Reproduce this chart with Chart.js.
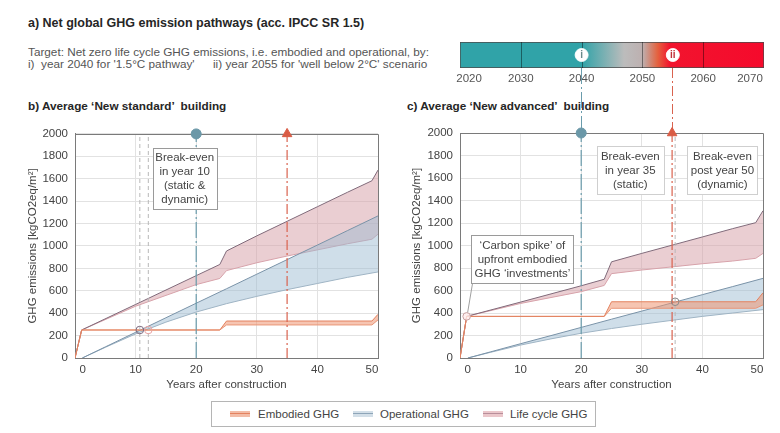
<!DOCTYPE html>
<html>
<head>
<meta charset="utf-8">
<script src="https://cdn.jsdelivr.net/npm/chart.js@4.4.1/dist/chart.umd.min.js"></script>
<style>
html,body{margin:0;padding:0;background:#fff}
body{width:780px;height:433px;position:relative;overflow:hidden;font-family:"Liberation Sans",Arial,Helvetica,sans-serif}
.t{position:absolute;white-space:pre;line-height:14px;font-size:11.75px;color:#555}
.b{font-weight:bold;color:#262626}
canvas{position:absolute}
#legend{position:absolute;left:211px;top:401px;width:385px;height:26px;border:1px solid #b5b5b5;box-sizing:border-box}
.sw{position:absolute;width:20px;height:6px;top:9px}
.sw i{position:absolute;left:0;right:0;top:2px;height:1px}
.lt{position:absolute;top:5px;font-size:11.5px;line-height:14px;color:#444;white-space:pre}
</style>
</head>
<body>
<div class="t b" style="left:28px;top:16px;font-size:12.5px">a) Net global GHG emission pathways (acc. IPCC SR 1.5)</div>
<div class="t" style="left:28px;top:45px">Target: Net zero life cycle GHG emissions, i.e. embodied and operational, by:</div>
<div class="t" style="left:28px;top:57px">i)  year 2040 for '1.5°C pathway'</div>
<div class="t" style="left:213px;top:57px">ii) year 2055 for 'well below 2°C' scenario</div>
<div class="t b" style="left:28px;top:99px">b) Average ‘New standard’  building</div>
<div class="t b" style="left:407px;top:99px">c) Average ‘New advanced’  building</div>
<canvas id="bar" width="340" height="60" style="left:440px;top:30px"></canvas>
<canvas id="left" width="390" height="278" style="left:0;top:120px"></canvas>
<canvas id="right" width="390" height="330" style="left:390px;top:68px"></canvas>
<div id="legend">
  <div class="sw" style="left:18px;background:#f3bca6"><i style="background:#e3825f"></i></div>
  <div class="lt" style="left:46px">Embodied GHG</div>
  <div class="sw" style="left:141px;background:#d3dfe8"><i style="background:#8ea5b8"></i></div>
  <div class="lt" style="left:168px">Operational GHG</div>
  <div class="sw" style="left:271px;background:#ebc7cb"><i style="background:#b88e9a"></i></div>
  <div class="lt" style="left:298px">Life cycle GHG</div>
</div>
<script>
// ---------- DATA ----------
// Years after construction (x) and GHG emissions in kgCO2eq/m² (y)
const leftEmbX    = [0, 1.1, 23.9, 25.0, 49.0, 50];
const leftEmbHigh = [0, 250, 250, 330, 330, 390];
const leftEmbLow  = [0, 250, 250, 295, 295, 340];
const leftOpX     = [1.2, 5, 10, 15, 20, 25, 30, 35, 40, 45, 50];
const leftOpHigh  = [0, 99, 229, 359, 489, 618, 748, 878, 1008, 1138, 1268];
const leftOpLow   = [0, 95, 215, 320, 410, 485, 550, 610, 665, 720, 768];
const leftLcX     = [0, 1.1, 10, 20, 23.9, 25, 30, 35, 40, 45, 49, 50];
const leftLcHigh  = [0, 250, 478, 735, 835, 955, 1090, 1220, 1350, 1480, 1582, 1677];
const leftLcLow   = [0, 250, 462, 655, 710, 780, 850, 910, 965, 1020, 1060, 1105];

const rightEmbX    = [0, 1.1, 23.8, 25.0, 48.8, 50];
const rightEmbHigh = [0, 370, 370, 500, 500, 580];
const rightEmbLow  = [0, 370, 370, 442, 442, 472];
const rightOpX     = [1.3, 5, 10, 15, 20, 25, 30, 35, 40, 45, 50];
const rightOpHigh  = [0, 54, 127, 199, 272, 345, 417, 490, 563, 635, 708];
const rightOpLow   = [0, 50, 115, 170, 220, 262, 300, 335, 370, 400, 430];
const rightLcX     = [0, 1.1, 10, 20, 23.8, 25, 30, 35, 40, 45, 48.8, 50];
const rightLcHigh  = [0, 370, 497, 642, 700, 855, 930, 1003, 1076, 1150, 1203, 1309];
const rightLcLow   = [0, 370, 485, 590, 645, 750, 782, 810, 838, 862, 886, 930];

const targetYears = [20, 35];            // 2040 (1.5°C) and 2055 (well below 2°C)
const targetTop = 2000;
const leftBreakEvenX = [10.7, 12.1];
const leftBreakEvenY = [250, 250];
const rightBreakEvenX = [35.5, 1.1];
const rightBreakEvenY = [500, 370];

const xTickValues = [1.25, 10, 20, 30, 40, 49];
const xTickLabels = ['0', '10', '20', '30', '40', '50'];

const barYears = [2020, 2070];
const yearTickValues = [2021.5, 2030, 2040, 2050, 2060, 2067.7];
const yearTickLabels = ['2020', '2030', '2040', '2050', '2060', '2070'];
const gradYears  = [2020, 2040, 2047, 2050, 2052.5, 2054.5, 2070];
const gradColors = ['#30a3a8', '#30a3a8', '#bcbcbc', '#bdb0b0', '#e4623f', '#f2142e', '#f50a2c'];
const dividerYears = [2030, 2040, 2050, 2060];
const milestoneYears = [2040, 2055];
const milestoneLabels = ['i', 'ii'];

// ---------- STYLE ----------
const FONT = '"Liberation Sans", Arial, Helvetica, sans-serif';
Chart.defaults.font.family = FONT;
Chart.defaults.font.size = 11.5;
Chart.defaults.color = '#444';
const gridColor = '#e2e2e2';
const frameColor = '#7a7a7a';
const tealLine = '#6a9cac', tealMark = '#6b98a8';
const redLine = '#d9634f', redMark = '#d95c45';
const emb = {hi:'#e3825f', lo:'#e99678', fill:'rgba(238,150,115,0.55)'};
const op  = {hi:'#7a93a8', lo:'#9fb4c4', fill:'rgba(155,185,208,0.48)'};
const lc  = {hi:'#806a7a', lo:'#d7a2aa', fill:'rgba(214,158,166,0.5)'};

function xy(xs, ys){ return xs.map((x,i)=>({x:x, y:ys[i]})); }
function band(xs, hi, lo, st){
  return [
    {data: xy(xs,hi), borderColor: st.hi, borderWidth:1, pointRadius:0, fill:false, tension:0},
    {data: xy(xs,lo), borderColor: st.lo, borderWidth:1, pointRadius:0, fill:'-1', backgroundColor: st.fill, tension:0}
  ];
}
function vline(year, color, dash, width){
  return {data:[{x:year,y:0},{x:year,y:targetTop}], borderColor:color, borderDash:dash, borderWidth:width||1, pointRadius:0, fill:false};
}

const deco = {
  id:'deco',
  beforeDatasetsDraw(chart, args, o){
    const {ctx, chartArea:a, scales:{x}} = chart;
    ctx.save();
    ctx.strokeStyle = frameColor; ctx.lineWidth = 1;
    ctx.beginPath();
    ctx.moveTo(a.left, Math.round(a.top)+0.5);
    ctx.lineTo(Math.round(a.right)+0.5, Math.round(a.top)+0.5);
    ctx.lineTo(Math.round(a.right)+0.5, a.bottom);
    ctx.stroke();
    (o.extend||[]).forEach(e=>{
      const px = Math.round(x.getPixelForValue(e.year))+0.5;
      ctx.strokeStyle = e.color; ctx.setLineDash(e.dash);
      ctx.beginPath(); ctx.moveTo(px, 0); ctx.lineTo(px, a.top); ctx.stroke();
    });
    ctx.restore();
  },
  afterDatasetsDraw(chart, args, o){
    const {ctx, scales:{x,y}} = chart;
    ctx.save();
    (o.notes||[]).forEach(n=>{
      const cx = x.getPixelForValue(n.x), cy = y.getPixelForValue(n.y);
      const l = Math.round(cx - n.w/2)+0.5, t = Math.round(cy - n.h/2)+0.5;
      if(n.leader){
        const lx = x.getPixelForValue(n.leader.x), ly = y.getPixelForValue(n.leader.y);
        ctx.strokeStyle = '#a0a0a0'; ctx.lineWidth = 1;
        ctx.beginPath(); ctx.moveTo(lx+1, ly-4); ctx.lineTo(l+1, t+n.h); ctx.stroke();
      }
      ctx.fillStyle = '#fff'; ctx.fillRect(l, t, n.w, n.h);
      ctx.strokeStyle = n.border; ctx.lineWidth = 1; ctx.strokeRect(l, t, n.w, n.h);
      ctx.fillStyle = '#444'; ctx.font = '11.5px ' + FONT;
      ctx.textAlign = 'center'; ctx.textBaseline = 'middle';
      n.lines.forEach((s,i)=> ctx.fillText(s, cx, cy + (i - (n.lines.length-1)/2)*14.2 + 0.5));
    });
    ctx.restore();
  }
};

function makeChart(id, d, opt){
  const datasets = [
    {type:'line', data:[{x:targetYears[0], y:targetTop}], showLine:false, pointRadius:5, pointStyle:'circle', pointBackgroundColor:tealMark, pointBorderColor:tealMark, clip:false},
    {type:'line', data:[{x:targetYears[1], y:targetTop}], showLine:false, pointRadius:5.5, pointStyle:'triangle', pointBackgroundColor:redMark, pointBorderColor:redMark, clip:false},
  ];
  d.circles.forEach(c=> datasets.push({data:[{x:c.x,y:c.y}], showLine:false, pointRadius:3.8, pointBorderWidth:1, pointBorderColor:c.color, pointBackgroundColor:c.bg||'rgba(255,255,255,0)', clip:false}));
  datasets.push(vline(targetYears[0], tealLine, [16,3,2,3], 1.2));
  datasets.push(vline(targetYears[1], redLine, [10,3,2,3], 1.2));
  d.grey.forEach(g=> datasets.push(vline(g, '#b8b8b8', [4,3], 1)));
  datasets.push(...band(d.embX, d.embHi, d.embLo, emb));
  datasets.push(...band(d.opX, d.opHi, d.opLo, op));
  datasets.push(...band(d.lcX, d.lcHi, d.lcLo, lc));

  return new Chart(document.getElementById(id), {
    type:'line',
    data:{datasets},
    options:{
      responsive:false, animation:false, devicePixelRatio:1,
      layout:{padding:{left:0, right:opt.padRight, top:opt.padTop, bottom:0}},
      scales:{
        x:{type:'linear', min:0, max:50,
          afterBuildTicks: ax => { ax.ticks = xTickValues.map(v=>({value:v})); },
          ticks:{callback:(v,i)=>xTickLabels[i], padding:5, maxRotation:0, autoSkip:false, color:'#444'},
          grid:{color: c => (c.index===0 || c.index===xTickValues.length-1) ? 'rgba(0,0,0,0)' : gridColor, drawTicks:false},
          border:{color:frameColor},
          title:{display:true, text:'Years after construction', color:'#444', padding:{top:0,bottom:6}},
          afterFit: s => { s.height = 40; }
        },
        y:{min:0, max:2000,
          ticks:{stepSize:200, padding:7, color:'#444', callback: v => String(v)},
          grid:{color:gridColor, drawTicks:false},
          border:{color:frameColor},
          title:{display:true, text:'GHG emissions [kgCO2eq/m²]', color:'#444', padding:{top:opt.titlePad, bottom:0}},
          afterFit: s => { s.width = opt.yWidth; }
        }
      },
      plugins:{legend:{display:false}, tooltip:{enabled:false}, deco:{notes:opt.notes, extend:opt.extend}}
    },
    plugins:[deco]
  });
}

makeChart('left', {
  embX:leftEmbX, embHi:leftEmbHigh, embLo:leftEmbLow,
  opX:leftOpX, opHi:leftOpHigh, opLo:leftOpLow,
  lcX:leftLcX, lcHi:leftLcHigh, lcLo:leftLcLow,
  circles: leftBreakEvenX.map((v,i)=>({x:v, y:leftBreakEvenY[i], color: i===0 ? '#7d6b80' : '#e8a4a4'})),
  grey: leftBreakEvenX
}, {
  padRight:12, padTop:13, yWidth:75, titlePad:26,
  notes:[{lines:['Break-even','in year 10','(static &','dynamic)'], x:18.1, y:1602, w:64, h:61, border:'#9a9a9a'}]
});

makeChart('right', {
  embX:rightEmbX, embHi:rightEmbHigh, embLo:rightEmbLow,
  opX:rightOpX, opHi:rightOpHigh, opLo:rightOpLow,
  lcX:rightLcX, lcHi:rightLcHigh, lcLo:rightLcLow,
  circles: rightBreakEvenX.map((v,i)=>({x:v, y:rightBreakEvenY[i], color: i===0 ? '#8a8a8a' : '#c9a0a0', bg: i===0 ? null : 'rgba(255,236,236,0.8)'})),
  grey: [rightBreakEvenX[0]]
}, {
  padRight:17, padTop:65, yWidth:70, titlePad:20,
  extend:[{year:targetYears[0], color:tealLine, dash:[16,3,2,3]}, {year:targetYears[1], color:redLine, dash:[10,3,2,3]}],
  notes:[
    {lines:['Break-even','in year 35','(static)'], x:28.1, y:1667, w:67, h:48, border:'#cfcfcf'},
    {lines:['Break-even','post year 50','(dynamic)'], x:43.3, y:1667, w:70, h:48, border:'#cfcfcf'},
    {lines:['‘Carbon spike’ of','upfront embodied','GHG ‘investments’'], x:10.3, y:876, w:102, h:48, border:'#9a9a9a', leader:{x:rightBreakEvenX[1], y:rightBreakEvenY[1]}}
  ]
});

// ---------- Pathway colour bar ----------
function barGradient(chart){
  const a = chart.chartArea, xs = chart.scales.x;
  if(!a || !xs) return gradColors[0];
  const x0 = xs.getPixelForValue(barYears[0]), x1 = xs.getPixelForValue(barYears[1]);
  const g = chart.ctx.createLinearGradient(x0, 0, x1, 0);
  gradYears.forEach((yr,i)=> g.addColorStop((yr-barYears[0])/(barYears[1]-barYears[0]), gradColors[i]));
  return g;
}
const barDeco = {
  id:'barDeco',
  afterDatasetsDraw(chart){
    const {ctx, chartArea:a, scales:{x}} = chart;
    ctx.save();
    ctx.strokeStyle = 'rgba(0,0,0,0.42)'; ctx.lineWidth = 1;
    dividerYears.forEach(yr=>{
      const px = Math.round(x.getPixelForValue(yr))+0.5;
      ctx.beginPath(); ctx.moveTo(px, a.top); ctx.lineTo(px, a.bottom); ctx.stroke();
    });
    const cy = (a.top + a.bottom)/2;
    milestoneYears.forEach((yr,i)=>{
      const px = x.getPixelForValue(yr);
      ctx.fillStyle = '#fff'; ctx.beginPath(); ctx.arc(px, cy, 6.5, 0, Math.PI*2); ctx.fill();
      ctx.strokeStyle = 'rgba(255,255,255,0.9)'; ctx.stroke();
      ctx.fillStyle = i===0 ? '#6a8a8c' : '#c0303a';
      ctx.font = 'bold 10px ' + FONT; ctx.textAlign = 'center'; ctx.textBaseline = 'middle';
      ctx.fillText(milestoneLabels[i], px, cy + 0.5);
    });
    ctx.restore();
  }
};
new Chart(document.getElementById('bar'), {
  type:'bar',
  data:{labels:[''], datasets:[{data:[barYears], backgroundColor: c => barGradient(c.chart), borderColor:'#4a4a4a', borderWidth:1, borderSkipped:false, barPercentage:1, categoryPercentage:1}]},
  options:{
    indexAxis:'y', responsive:false, animation:false, devicePixelRatio:1,
    layout:{padding:{left:20, right:16, top:12, bottom:0}},
    scales:{
      x:{type:'linear', min:barYears[0], max:barYears[1],
        afterBuildTicks: ax => { ax.ticks = yearTickValues.map(v=>({value:v})); },
        ticks:{callback:(v,i)=>yearTickLabels[i], padding:4, maxRotation:0, autoSkip:false, color:'#555'},
        grid:{display:false, drawTicks:false}, border:{display:false},
        afterFit: s => { s.height = 22; }
      },
      y:{display:false}
    },
    plugins:{legend:{display:false}, tooltip:{enabled:false}}
  },
  plugins:[barDeco]
});
</script>
</body>
</html>
